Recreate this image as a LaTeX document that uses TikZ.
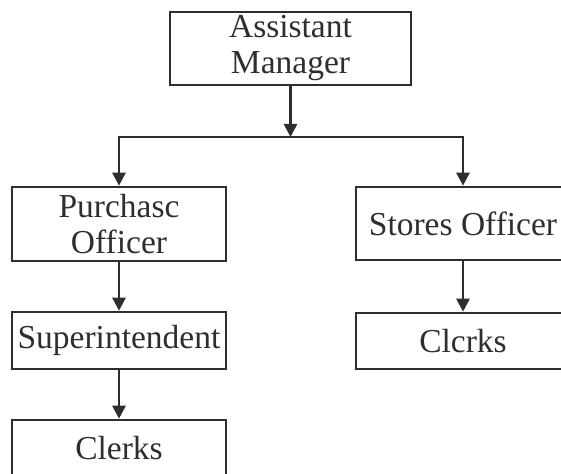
\documentclass[tikz,border=0pt]{standalone}
\usepackage{fontspec}
\setmainfont{Liberation Serif}
\usetikzlibrary{arrows.meta}
\definecolor{ink}{HTML}{2E2E2E}
\tikzset{
  box/.style={draw=ink, line width=2.6pt, fill=white, text=ink, align=center,
    inner sep=0pt, font=\fontsize{33.5}{36}\selectfont},
  arr/.style={draw=ink, line width=2.6pt, -{Triangle[length=13pt,width=13pt]}},
}
\begin{document}
\begin{tikzpicture}[x=1pt,y=-1pt]
\useasboundingbox (0,0) rectangle (561,473);
\clip (0,0) rectangle (561,473);
\fill[white] (0,0) rectangle (561,473);
% boxes
\node[box, minimum width=241pt, minimum height=73pt] (am) at (290.5,48.5) {Assistant\\Manager};
\node[box, minimum width=214pt, minimum height=74pt] (po) at (119,224) {Purchasc\\Officer};
\node[box, minimum width=214pt, minimum height=73pt] (so) at (463,223.5) {Stores Officer};
\node[box, minimum width=214pt, minimum height=57pt] (su) at (119,340.5) {Superintendent};
\node[box, minimum width=214pt, minimum height=57pt] (cl) at (119,448.5) {Clerks};
\node[box, minimum width=214pt, minimum height=56pt] (cr) at (463,341) {Clcrks};
% connectors
\coordinate (bus) at (290.5,137);
\draw[arr] (am.south) -- (bus);
\draw[arr] (bus) -| (po.north);
\draw[arr] (bus) -| (so.north);
\draw[arr] (po.south) -- (su.north);
\draw[arr] (su.south) -- (cl.north);
\draw[arr] (so.south) -- (cr.north);
\end{tikzpicture}
\end{document}
